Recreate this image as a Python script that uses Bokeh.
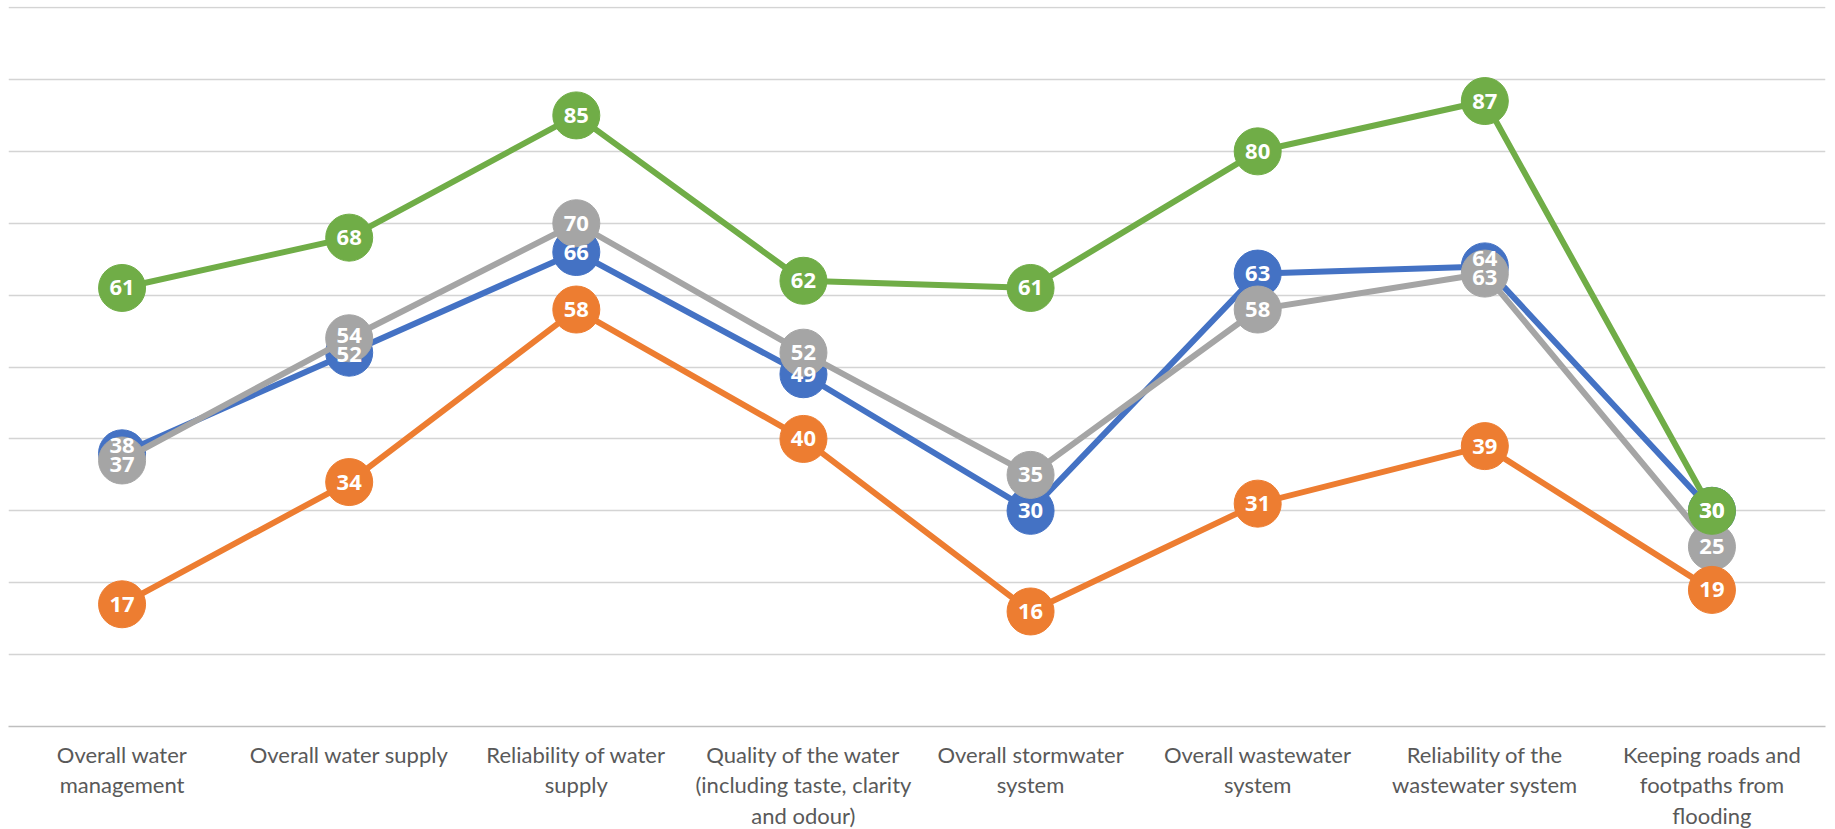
from bokeh.plotting import figure
from bokeh.models import ColumnDataSource, Range1d, FixedTicker
from bokeh.core.properties import value
from bokeh.embed import file_html
from bokeh.resources import INLINE

categories = [
    "Overall water management",
    "Overall water supply",
    "Reliability of water supply",
    "Quality of the water (including taste, clarity and odour)",
    "Overall stormwater system",
    "Overall wastewater system",
    "Reliability of the wastewater system",
    "Keeping roads and footpaths from flooding",
]
tick_labels = [
    "Overall water\nmanagement",
    "Overall water supply",
    "Reliability of water\nsupply",
    "Quality of the water\n(including taste, clarity\nand odour)",
    "Overall stormwater\nsystem",
    "Overall wastewater\nsystem",
    "Reliability of the\nwastewater system",
    "Keeping roads and\nfootpaths from\nflooding",
]
blue_values = [38, 52, 66, 49, 30, 63, 64, 30]
orange_values = [17, 34, 58, 40, 16, 31, 39, 19]
grey_values = [37, 54, 70, 52, 35, 58, 63, 25]
green_values = [61, 68, 85, 62, 61, 80, 87, 30]
y_ticks = [0, 10, 20, 30, 40, 50, 60, 70, 80, 90, 100]

series = [
    (blue_values, "#4472C4"),
    (grey_values, "#A5A5A5"),
    (orange_values, "#ED7D31"),
    (green_values, "#70AD47"),
]

xs = list(range(len(categories)))

FRAME_H = 720
Y_END = 100.15
px_per_unit = FRAME_H / Y_END
MIN_SEP = 19  # minimal vertical distance (px) between two different data labels

# label nudging (like Excel's overlap avoidance): per category, push apart close labels
offsets = {i: {} for i in xs}
for i in xs:
    vals = sorted({s[0][i] for s in series})
    for lo, hi in zip(vals, vals[1:]):
        gap = (hi - lo) * px_per_unit
        if gap < MIN_SEP:
            deficit = MIN_SEP - gap
            offsets[i][hi] = offsets[i].get(hi, 0) - deficit * 0.65
            offsets[i][lo] = offsets[i].get(lo, 0) + deficit * 0.35

p = figure(
    frame_width=1817, frame_height=FRAME_H,
    x_range=Range1d(-0.5, len(categories) - 0.5),
    y_range=Range1d(0, Y_END),
    output_backend="svg", toolbar_location=None,
    min_border_left=8, min_border_right=8, min_border_top=6, min_border_bottom=0,
)
p.outline_line_color = None
p.background_fill_color = "white"
p.border_fill_color = "white"

p.yaxis.visible = False
p.ygrid.ticker = FixedTicker(ticks=y_ticks)
p.ygrid.grid_line_color = "#D4D4D4"
p.ygrid.grid_line_width = 1.5
p.xgrid.grid_line_color = None

ax = p.xaxis[0]
ax.ticker = FixedTicker(ticks=xs)
ax.major_label_overrides = {i: lab for i, lab in zip(xs, tick_labels)}
ax.axis_line_color = "#BFBFBF"
ax.axis_line_width = 1.5
ax.major_tick_line_color = None
ax.minor_tick_line_color = None
ax.major_tick_out = 0
ax.major_tick_in = 0
ax.major_label_standoff = 14
ax.major_label_text_font = "Lato"
ax.major_label_text_font_size = "22px"
ax.major_label_text_color = "#595959"
ax.major_label_text_line_height = 1.13

for vals, color in series:
    src = ColumnDataSource(dict(x=xs, y=vals))
    p.line("x", "y", source=src, line_color=color, line_width=6)
    p.scatter("x", "y", source=src, size=47, fill_color=color, line_color=color)

for vals, color in series:
    yoff = [offsets[i].get(v, 0) for i, v in zip(xs, vals)]
    src = ColumnDataSource(dict(x=xs, y=vals, t=[str(v) for v in vals], yo=yoff))
    p.text("x", "y", text="t", source=src, text_color="white", y_offset="yo",
           text_font=value("Open Sans"), text_font_style="bold",
           text_font_size="22px", text_align="center", text_baseline="middle")

open("out.html", "w").write(file_html(p, INLINE))
